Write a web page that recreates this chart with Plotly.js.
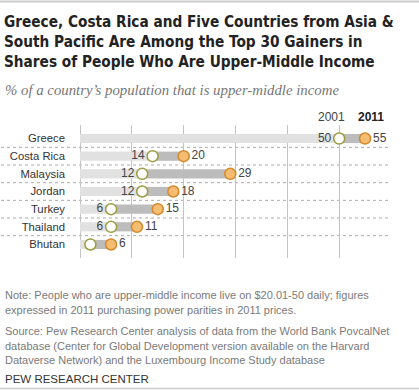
<!DOCTYPE html>
<html><head><meta charset="utf-8">
<script src="https://cdn.plot.ly/plotly-3.0.1.min.js"></script>
<style>html,body{margin:0;padding:0;background:#fff;}#chart{width:419px;height:391px;}</style>
</head><body><div id="chart"></div>
<script>
const countries = ["Greece","Costa Rica","Malaysia","Jordan","Turkey","Thailand","Bhutan"];
const share2001 = [50,14,12,12,6,6,2];
const share2011 = [55,20,29,18,15,11,6];
const label2001 = ["50","14","12","12","6","6",""];
const label2011 = ["55","20","29","18","15","11","6"];
const titleLines = ["Greece, Costa Rica and Five Countries from Asia &",
  "South Pacific Are Among the Top 30 Gainers in",
  "Shares of People Who Are Upper-Middle Income"];

const W = 419, H = 391, L = 80, R = 28, T = 125, B = 133;
const pw = W - L - R, ph = H - T - B;
const px = p => (p - L) / pw;
const py = p => (H - B - p) / ph;

// choose a condensed bold font if installed, and a size that fits the reference line width
const cv = document.createElement('canvas').getContext('2d');
function measure(fam, size) { cv.font = 'bold ' + size + 'px ' + fam; return cv.measureText(titleLines[0]).width; }
function installed(fam) {
  return measure('"' + fam + '", monospace', 20) !== measure('monospace', 20);
}
let titleFam = 'Liberation Sans';
for (const f of ['Liberation Sans Narrow', 'DejaVu Sans Condensed', 'Roboto Condensed']) {
  if (installed(f)) { titleFam = f; break; }
}
let titleSize = 18;
const w18 = measure('"' + titleFam + '"', 18);
titleSize = Math.min(19, 18 * 390 / w18);

const gain = share2011.map((v, i) => v - share2001[i]);

const traces = [
  {type:'bar', orientation:'h', y:countries, x:share2001, base:0, width:0.52,
   marker:{color:'#e1e1e1'}, hoverinfo:'skip', showlegend:false},
  {type:'bar', orientation:'h', y:countries, x:gain, base:share2001, width:0.52,
   marker:{color:'#bcbcbc'}, hoverinfo:'skip', showlegend:false},
  {type:'scatter', mode:'markers+text', y:countries, x:share2001, text:label2001,
   textposition:'middle left', textfont:{family:'Liberation Sans, Arial', size:12, color:'#444'},
   marker:{size:11, color:'#ffffff', line:{color:'#9c9c3e', width:1.5}}, showlegend:false, cliponaxis:false},
  {type:'scatter', mode:'markers+text', y:countries, x:share2011, text:label2011,
   textposition:'middle right', textfont:{family:'Liberation Sans, Arial', size:12, color:'#444'},
   marker:{size:11, color:'#f4bd72', line:{color:'#d4892a', width:1.5}}, showlegend:false, cliponaxis:false}
];

const shapes = [];
for (let i = 0; i < countries.length - 1; i++) {
  shapes.push({type:'line', xref:'paper', yref:'y', x0:px(1), x1:px(391), y0:i+0.5, y1:i+0.5,
    line:{color:'#aaaaaa', width:1, dash:'dot'}, layer:'below'});
}
shapes.push({type:'line', xref:'paper', yref:'paper', x0:px(0), x1:px(419), y0:py(1.5), y1:py(1.5), line:{color:'#cccccc', width:2}});
shapes.push({type:'line', xref:'paper', yref:'paper', x0:px(0), x1:px(419), y0:py(388.5), y1:py(388.5), line:{color:'#cccccc', width:1.5}});

const noteFont = {family:'Liberation Sans, Arial', size:11, color:'#7a7a7a'};
const ann = (text, y, font, x, xanchor) => ({text, xref:'paper', yref:'paper', x:px(x===undefined?3:x), y:py(y),
  xanchor:xanchor||'left', yanchor:'middle', showarrow:false, font, align:'left'});

const titleFont = {family:'"' + titleFam + '", Liberation Sans, Arial', size:titleSize, color:'#222', weight:'bold'};
const annotations = [
  ann(titleLines[0].replace('&','&amp;'), 22, titleFont, 2),
  ann(titleLines[1], 42, titleFont, 2),
  ann(titleLines[2], 62, titleFont, 2),
  ann('% of a country’s population that is upper-middle income', 90, {family:'Liberation Serif, serif', size:14.8, color:'#777', style:'italic'}),
  ann('2001', 117, {family:'Liberation Sans, Arial', size:12, color:'#444'}, 331, 'center'),
  ann('<b>2011</b>', 117, {family:'Liberation Sans, Arial', size:12, color:'#222'}, 371, 'center'),
  ann('Note: People who are upper-middle income live on $20.01-50 daily; figures', 295, noteFont),
  ann('expressed in 2011 purchasing power parities in 2011 prices.', 310, noteFont),
  ann('Source: Pew Research Center analysis of data from the World Bank PovcalNet', 331, noteFont),
  ann('database (Center for Global Development version available on the Harvard', 346, noteFont),
  ann('Dataverse Network) and the Luxembourg Income Study database', 360, noteFont),
  ann('PEW RESEARCH CENTER', 379, {family:'Liberation Sans, Arial', size:11.5, color:'#333'})
];

const layout = {
  width:W, height:H, margin:{l:L, r:R, t:T, b:B}, paper_bgcolor:'#fff', plot_bgcolor:'#fff',
  barmode:'overlay',
  xaxis:{range:[0,60], dtick:10, showgrid:true, gridcolor:'#c4c4c4', gridwidth:1, zeroline:true, zerolinecolor:'#c4c4c4', zerolinewidth:1,
    showticklabels:false, ticks:'', fixedrange:true, showline:false},
  yaxis:{categoryorder:'array', categoryarray:countries, autorange:'reversed', showgrid:false, zeroline:false,
    ticks:'', ticklabelstandoff:14, tickfont:{family:'Liberation Sans, Arial', size:11.3, color:'#333'}, fixedrange:true},
  shapes, annotations, showlegend:false
};
Plotly.newPlot('chart', traces, layout, {displayModeBar:false, staticPlot:true});
</script></body></html>
